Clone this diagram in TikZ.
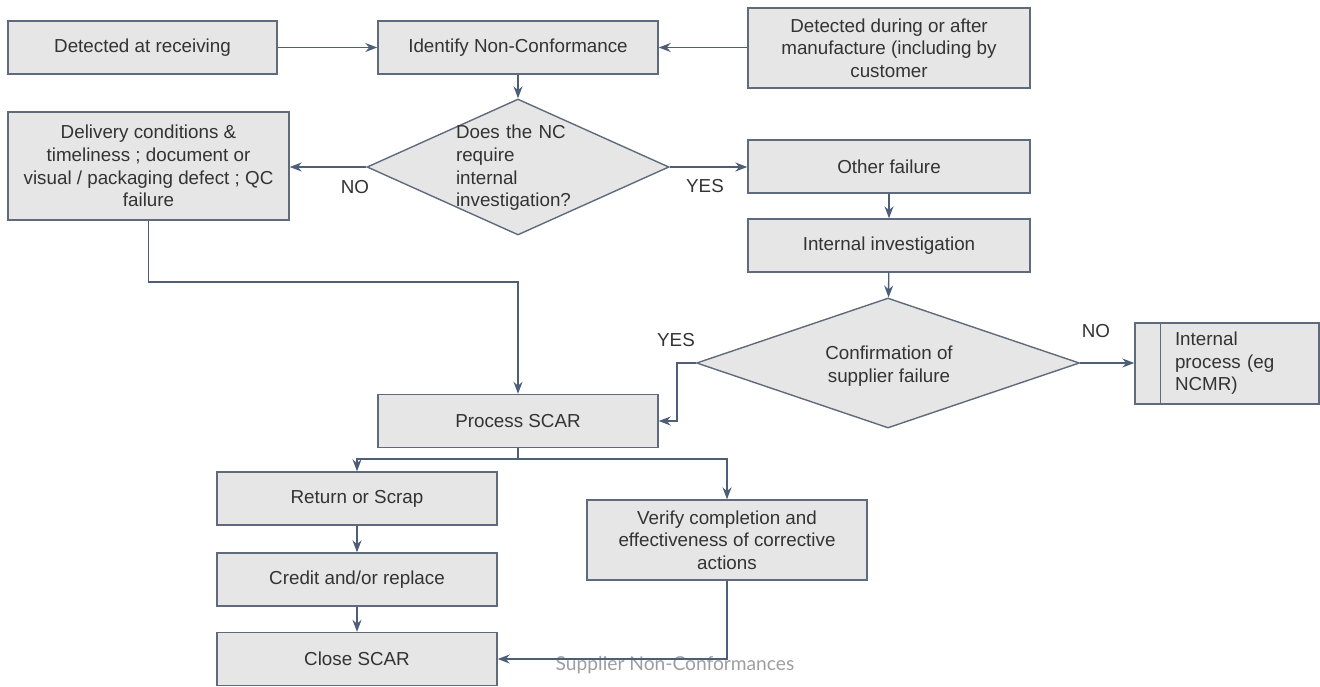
\documentclass[tikz,border=0pt]{standalone}
\usepackage{fontspec}
\setmainfont{Liberation Sans}
\newfontfamily\capfont{Lato}
\usetikzlibrary{shapes.geometric,arrows.meta}
\definecolor{boxfill}{HTML}{E6E6E6}
\definecolor{boxline}{HTML}{5F6B7C}
\definecolor{arrline}{HTML}{4C5E78}
\definecolor{txt}{HTML}{333333}
\begin{document}
\begin{tikzpicture}[x=0.5pt,y=-0.5pt,
        font=\fontsize{9.4}{11.3}\selectfont,
        box/.style={draw=boxline,fill=boxfill,line width=0.7pt,text=txt,align=center,
                inner sep=0pt,minimum width=140pt,minimum height=26.5pt},
        dec/.style={diamond,draw=boxline,fill=boxfill,line width=0.7pt,inner sep=0pt},
        arr/.style={draw=arrline,line width=0.7pt,-{Stealth[length=6pt,width=4.5pt]}},
        lbl/.style={text=txt}]
        \useasboundingbox (0,0) rectangle (1320,686);
        \node[box,minimum width=134.5pt] (recv) at (142.5,47.5) {Detected at receiving};
        \node[box] (identify) at (518,47.5) {Identify Non-Conformance};
        \node[box,minimum width=141pt,minimum height=40pt] (manuf) at (889,48)
                {Detected during or after\\manufacture (including by\\customer};
        \node[dec,minimum width=151pt,minimum height=68pt] (nc) at (518,167) {};
        \node[text=txt,align=left,text width=58pt] (nctext) at (514,168)
                {Does the NC\\require\\internal\\investigation?};
        \node[box,minimum width=140.5pt,minimum height=54pt] (deliv) at (148.5,166)
                {Delivery conditions \&\\timeliness ; document or\\visual / packaging defect ; QC\\failure};
        \node[box,minimum width=141pt] (other) at (889,166.5) {Other failure};
        \node[box,minimum width=141pt] (intinv) at (889,245.5) {Internal investigation};
        \node[dec,minimum width=191.5pt,minimum height=65pt] (conf) at (888,363) {};
        \node[text=txt,align=center] (conftext) at (889,366) {Confirmation of\\supplier failure};
        \node[box,minimum width=92pt,minimum height=40.5pt,align=left,text width=52pt]
                (intproc) at (1227,363.5) {Internal\\process (eg\\NCMR)};
        \draw[boxline,line width=0.7pt] ([xshift=13pt]intproc.north west) -- ([xshift=13pt]intproc.south west);
        \node[box] (scar) at (518,421) {Process SCAR};
        \node[box] (ret) at (357,498.5) {Return or Scrap};
        \node[box] (credit) at (357,579.5) {Credit and/or replace};
        \node[box] (close) at (357,659) {Close SCAR};
        \node[box,minimum height=40pt] (verify) at (727,540)
                {Verify completion and\\effectiveness of corrective\\actions};
        \node[lbl] (no1) at (355,187) {NO};
        \node[lbl] (yes1) at (705,186) {YES};
        \node[lbl] (yes2) at (676,340) {YES};
        \node[lbl] (no2) at (1096,331) {NO};
        \node[text=black!38,font=\capfont\fontsize{9.6}{11}\selectfont] (caption) at (675,665)
                {Supplier Non-Conformances};
        \coordinate (bend) at (148.5,282);
        \coordinate (split) at (518,459);
        \draw[arr] (recv) -- (identify);
        \draw[arr] (manuf.west |- identify.east) -- (identify.east);
        \draw[arr] (identify) -- (nc);
        \draw[arr] (nc.west) -- (deliv.east |- nc.west);
        \draw[arr] (nc.east) -- (other.west |- nc.east);
        \draw[arr] (other) -- (intinv);
        \draw[arr] (intinv) -- (conf);
        \draw[arr] (conf.east) -- (intproc.west |- conf.east);
        \draw[arr] (conf.west) -- ++(-19,0) |- (scar.east);
        \draw[arr] (deliv.south) -- (bend) -| (scar.north);
        \draw[draw=arrline,line width=0.7pt] (scar.south) -- (split);
        \draw[arr] (split) -| (ret.north);
        \draw[arr] (split) -| (verify.north);
        \draw[arr] (ret) -- (credit);
        \draw[arr] (credit) -- (close);
        \draw[arr] (verify.south) |- (close.east);
\end{tikzpicture}
\end{document}
